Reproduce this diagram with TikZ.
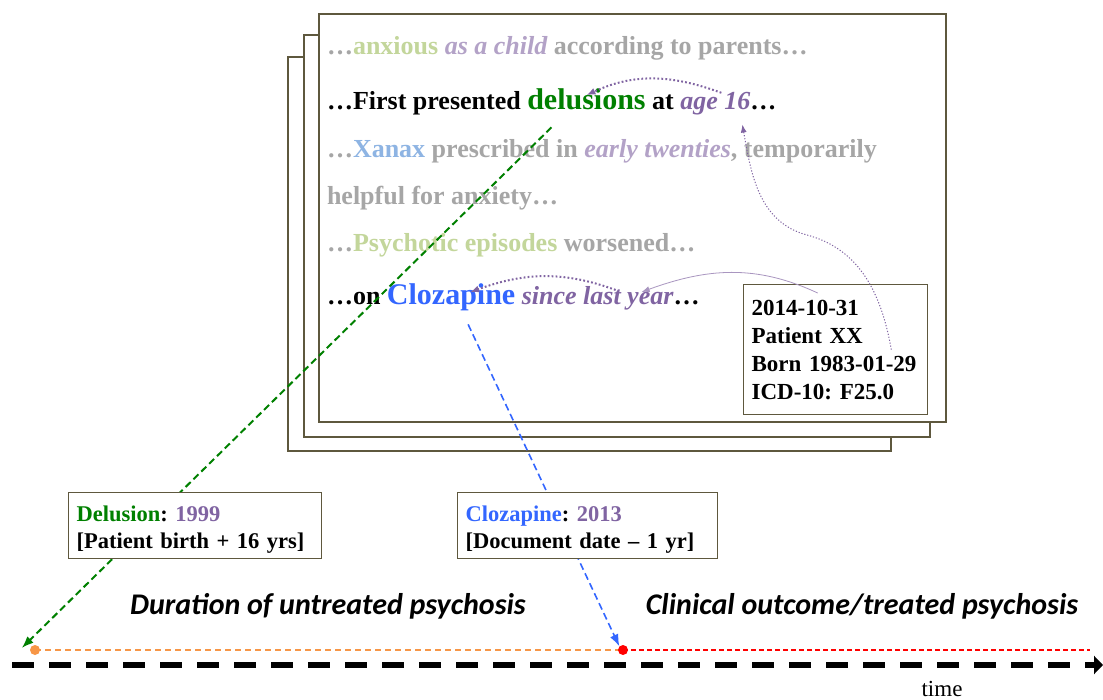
\documentclass[tikz,border=0pt]{standalone}
\usepackage{fontspec}
\setmainfont{Liberation Serif}
\newfontfamily\calibri{Carlito}
\usetikzlibrary{arrows.meta,calc}
\definecolor{pageline}{RGB}{94,88,62}
\definecolor{txtgrey}{RGB}{166,166,166}
\definecolor{lgreen}{RGB}{195,214,155}
\definecolor{lpurple}{RGB}{179,162,199}
\definecolor{lblue}{RGB}{142,180,227}
\definecolor{dpurple}{RGB}{128,100,162}
\definecolor{dgreen}{RGB}{0,128,0}
\definecolor{cblue}{RGB}{51,102,255}
\definecolor{dorange}{RGB}{247,150,70}
\frenchspacing
\begin{document}
\begin{tikzpicture}[x=1pt,y=-1pt,
    pagebox/.style={draw=pageline, fill=white, line width=1.6pt},
    word/.style={inner sep=0pt, outer sep=0pt, anchor=base west, font=\fontsize{26}{30}\selectfont\bfseries},
    bigword/.style={word, font=\fontsize{30}{34}\selectfont\bfseries},
    infobox/.style={draw=pageline, fill=white, line width=1.3pt, anchor=north west, align=left, inner xsep=8pt, font=\fontsize{22.5}{27}\selectfont\bfseries},
    dotarrow/.style={dpurple, line width=2pt, dash pattern=on 1.8pt off 2.2pt, -{Latex[length=9pt,width=7pt]}},
    thinarrow/.style={dpurple, line width=1pt, dash pattern=on 1.2pt off 1.8pt, -{Latex[length=8pt,width=6pt]}},
    linkarrow/.style={draw, dash pattern=on 7pt off 4pt, -{Latex[length=12pt,width=9pt]}},
    phase/.style={font=\fontsize{30}{34}\selectfont\calibri\bfseries\itshape, anchor=base},
    eventdot/.style={circle, inner sep=0pt, minimum size=10pt}
  ]
  \useasboundingbox (0,0) rectangle (1103,700);

  %%%%% note pages %%%%%
  \draw[pagebox] (288,57) rectangle (891,451);
  \draw[pagebox] (304,35) rectangle (930,437);
  \draw[pagebox] (319,14) rectangle (946,422);

  %%%%% note text %%%%%
  \node[word, text=txtgrey] (lineA) at (327,55) {…\textcolor{lgreen}{anxious} \textcolor{lpurple}{\itshape as a child} according to parents…};

  \node[word] (lineB) at (327,110) {…First presented\ \null};
  \node[bigword, text=dgreen] (delus) at (lineB.base east) {delusions};
  \node[word] (atw) at (delus.base east) {\ at\ \null};
  \node[word, text=dpurple] (age) at (atw.base east) {\itshape age 16};
  \node[word] (dotsB) at (age.base east) {…};

  \node[word, text=txtgrey] (lineC) at (327,158) {…\textcolor{lblue}{Xanax} prescribed in \textcolor{lpurple}{\itshape early twenties}, temporarily};
  \node[word, text=txtgrey] (lineD) at (327,205) {helpful for anxiety…};
  \node[word, text=txtgrey] (lineE) at (327,252) {…\textcolor{lgreen}{Psychotic episodes} worsened…};

  \node[word] (lineF) at (327,305) {…on\ \null};
  \node[bigword, text=cblue] (cloz) at (lineF.base east) {Clozapine};
  \node[word, text=dpurple] (since) at (cloz.base east) {\ \textit{since last year}};
  \node[word] (dotsF) at (since.base east) {…};

  \node[infobox, minimum width=184pt, minimum height=130pt, text width=168pt,
    font=\fontsize{23}{28}\selectfont\bfseries] (icd) at (743,284)
    {2014-10-31\\Patient XX\\Born 1983-01-29\\ICD-10: F25.0};

  %%%%% links inside the note %%%%%
  \draw[dotarrow] ([xshift=6pt]age.north) to[out=160,in=25] ([yshift=-6pt]delus.north);
  \coordinate (bendA) at (807,235);
  \draw[thinarrow] ([xshift=-37pt]icd.east) to[out=100,in=-15] (bendA)
    to[out=165,in=-80] ([xshift=-8pt,yshift=-9pt]age.south east);
  \draw[lpurple!80!dpurple, line width=0.8pt, -{Latex[length=8pt,width=6pt]}]
    ([xshift=-18pt,yshift=-9pt]icd.north) to[out=155,in=20] ([xshift=-32pt,yshift=-5pt]since.north east);
  \draw[dotarrow] ([xshift=-58pt,yshift=-3pt]since.north east) to[out=160,in=20] ([xshift=19pt,yshift=-8pt]cloz.north);

  %%%%% timeline %%%%%
  \coordinate (tl0) at (12,665);
  \coordinate (tl1) at (1103,665);
  \coordinate (rend) at (1090,650);
  \draw[line width=5.5pt, dash pattern=on 22pt off 15pt, -{Triangle[length=9pt,width=18pt]}] (tl0) -- (tl1);
  \node[eventdot] (odot) at (35,650) {};
  \node[eventdot] (rdot) at (623,650) {};
  \draw[dorange, line width=1.6pt, dash pattern=on 6pt off 4pt] (odot.center) -- (rdot.center);
  \draw[red, line width=1.6pt, dash pattern=on 5pt off 3pt] (rdot.center) -- (rend);
  \fill[dorange] (odot) circle (5);
  \fill[red] (rdot) circle (5);

  %%%%% links to the timeline %%%%%
  \draw[linkarrow, dgreen, line width=2pt] ([xshift=-35pt,yshift=-17pt]delus.south) -- ([xshift=-8pt,yshift=2pt]odot.west);
  \draw[linkarrow, cblue, line width=1.6pt] ([xshift=17pt,yshift=-13pt]cloz.south) -- (rdot.north west);

  \node[infobox, minimum width=253pt, minimum height=66pt, text width=237pt, inner ysep=4pt] (delbox) at (68,492)
    {\rule{0pt}{24pt}\textcolor{dgreen}{Delusion}: \textcolor{dpurple}{1999}\\{}[Patient birth + 16 yrs]};
  \node[infobox, minimum width=260pt, minimum height=66pt, text width=244pt, inner ysep=4pt] (clobox) at (457,492)
    {\rule{0pt}{24pt}\textcolor{cblue}{Clozapine}: \textcolor{dpurple}{2013}\\{}[Document date – 1 yr]};

  \node[phase] (untreated) at (328,614) {Duration of untreated psychosis};
  \node[phase] (treated) at (862,614) {Clinical outcome/treated psychosis};
  \node[font=\fontsize{23}{26}\selectfont] (timelabel) at (942,689) {time};
\end{tikzpicture}
\end{document}
